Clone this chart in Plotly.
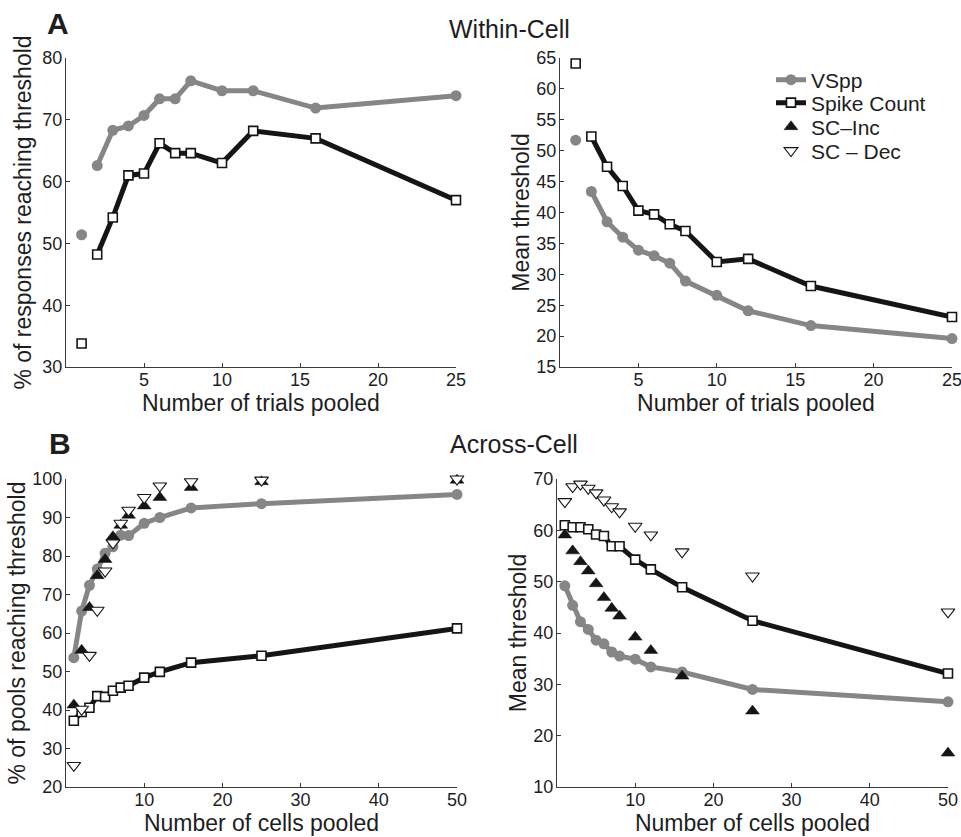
import plotly.graph_objects as go

# ---------------- data ----------------
trials = [1, 2, 3, 4, 5, 6, 7, 8, 10, 12, 16, 25]
cells = [1, 2, 3, 4, 5, 6, 7, 8, 10, 12, 16, 25, 50]

# A, left: % of responses reaching threshold
within_pct_vspp = [51.4, 62.6, 68.3, 69.0, 70.7, 73.4, 73.4, 76.3, 74.7, 74.7, 71.9, 73.9]
within_pct_sc = [33.8, 48.2, 54.2, 61.0, 61.3, 66.2, 64.6, 64.6, 63.0, 68.2, 67.0, 57.0]

# A, right: mean threshold
within_thr_vspp = [51.7, 43.4, 38.5, 36.0, 33.9, 33.0, 31.8, 28.9, 26.6, 24.1, 21.7, 19.6]
within_thr_sc = [64.1, 52.3, 47.4, 44.3, 40.3, 39.7, 38.1, 37.0, 32.0, 32.5, 28.1, 23.1]

# B, left: % of pools reaching threshold
across_pct_vspp = [53.6, 65.7, 72.4, 76.6, 80.7, 82.4, 85.4, 85.3, 88.5, 90.0, 92.5, 93.6, 96.0]
across_pct_sc = [37.2, 39.5, 40.6, 43.6, 43.4, 45.0, 45.8, 46.3, 48.4, 49.9, 52.3, 54.1, 61.2]
across_pct_inc = [41.3, 55.5, 66.6, 74.9, 79.1, 85.0, 88.0, 90.6, 93.0, 95.2, 97.8, 99.3, 99.7]
across_pct_dec = [25.6, 40.2, 54.2, 65.9, 76.1, 83.4, 88.5, 91.9, 95.2, 98.2, 99.3, 99.7, 100.0]

# B, right: mean threshold
across_thr_vspp = [49.2, 45.4, 42.2, 40.7, 38.6, 37.9, 36.3, 35.5, 34.9, 33.4, 32.4, 29.0, 26.6]
across_thr_sc = [61.0, 60.6, 60.6, 60.2, 59.2, 58.9, 56.9, 56.9, 54.3, 52.4, 48.9, 42.4, 32.1]
across_thr_inc = [59.1, 56.0, 53.9, 52.1, 49.6, 46.9, 44.8, 43.3, 39.2, 36.6, 31.6, 24.8, 16.6]
across_thr_dec = [65.6, 68.5, 69.0, 68.2, 67.3, 65.9, 64.6, 63.6, 60.8, 59.1, 55.8, 51.1, 44.1]

# ---------------- styles ----------------
GRAY = "#868686"
BLACK = "#151515"
FONT = "Liberation Sans, Arial, Helvetica, sans-serif"
TXT = "#1e1e1e"

vspp_marker = dict(symbol="circle", size=11, color=GRAY, line=dict(color=GRAY, width=0))
sc_marker = dict(symbol="square", size=9, color="white", line=dict(color=BLACK, width=1.6))
inc_marker = dict(symbol="triangle-up", size=12, color=BLACK, line=dict(color=BLACK, width=0.5))
dec_marker = dict(symbol="triangle-down", size=12, color="white", line=dict(color=BLACK, width=1.1))

fig = go.Figure()


def add_within(xa, ya, xs, vspp, sc, legend):
    # isolated first point (single trial) and connected curve from 2 trials on
    fig.add_trace(go.Scatter(x=xs[:1], y=vspp[:1], mode="markers", marker=vspp_marker,
                             xaxis=xa, yaxis=ya, showlegend=False, cliponaxis=False))
    fig.add_trace(go.Scatter(x=xs[1:], y=vspp[1:], mode="lines+markers", name="VSpp",
                             line=dict(color=GRAY, width=5), marker=vspp_marker,
                             xaxis=xa, yaxis=ya, showlegend=legend, legend="legend",
                             cliponaxis=False))
    fig.add_trace(go.Scatter(x=xs[:1], y=sc[:1], mode="markers", marker=sc_marker,
                             xaxis=xa, yaxis=ya, showlegend=False, cliponaxis=False))
    fig.add_trace(go.Scatter(x=xs[1:], y=sc[1:], mode="lines+markers", name="Spike Count",
                             line=dict(color=BLACK, width=5), marker=sc_marker,
                             xaxis=xa, yaxis=ya, showlegend=legend, legend="legend2",
                             cliponaxis=False))


def add_across(xa, ya, xs, vspp, sc, inc, dec, legend):
    fig.add_trace(go.Scatter(x=xs, y=vspp, mode="lines+markers", name="VSpp",
                             line=dict(color=GRAY, width=5), marker=vspp_marker,
                             xaxis=xa, yaxis=ya, showlegend=False, cliponaxis=False))
    fig.add_trace(go.Scatter(x=xs, y=sc, mode="lines+markers", name="Spike Count",
                             line=dict(color=BLACK, width=5), marker=sc_marker,
                             xaxis=xa, yaxis=ya, showlegend=False, cliponaxis=False))
    fig.add_trace(go.Scatter(x=xs, y=inc, mode="markers", name="SC\u2013Inc",
                             marker=inc_marker, xaxis=xa, yaxis=ya,
                             showlegend=legend, legend="legend3", cliponaxis=False))
    fig.add_trace(go.Scatter(x=xs, y=dec, mode="markers", name="SC \u2013 Dec",
                             marker=dec_marker, xaxis=xa, yaxis=ya,
                             showlegend=legend, legend="legend4", cliponaxis=False))


add_within("x", "y", trials, within_pct_vspp, within_pct_sc, False)
add_within("x2", "y2", trials, within_thr_vspp, within_thr_sc, True)
add_across("x3", "y3", cells, across_pct_vspp, across_pct_sc, across_pct_inc, across_pct_dec, False)
add_across("x4", "y4", cells, across_thr_vspp, across_thr_sc, across_thr_inc, across_thr_dec, True)

W, H = 961, 837


def dx(a, b):
    return [a / W, b / W]


def dy(top, bottom):
    return [(H - bottom) / H, (H - top) / H]


axis_common = dict(showline=True, linecolor="#3a3a3a", linewidth=1.2, mirror=False,
                   showgrid=False, zeroline=False, ticks="inside", ticklen=4,
                   tickcolor="#3a3a3a", tickwidth=1, ticklabeloverflow="allow",
                   tickfont=dict(family=FONT, size=18, color=TXT), automargin=False)
x_common = dict(axis_common, ticklabelstandoff=-4)
y_common = dict(axis_common, ticklabelstandoff=-1)

title_font = dict(family=FONT, size=23, color=TXT)


def leg(ypix):
    return dict(x=771 / W, y=(H - ypix) / H, xanchor="left", yanchor="middle",
                font=dict(family=FONT, size=21, color=TXT), bgcolor="rgba(0,0,0,0)",
                itemwidth=30)


fig.update_layout(
    width=W, height=H,
    margin=dict(l=0, r=0, t=0, b=0),
    paper_bgcolor="white", plot_bgcolor="white",
    font=dict(family=FONT, color=TXT),
    xaxis=dict(domain=dx(66, 456), range=[0, 25], tickvals=[5, 10, 15, 20, 25],
               anchor="y", title=dict(text="Number of trials pooled", font=title_font, standoff=0),
               **x_common),
    yaxis=dict(domain=dy(58, 367), range=[30, 80], tickvals=[30, 40, 50, 60, 70, 80],
               anchor="x", title=dict(text="% of responses reaching threshold", font=title_font, standoff=4),
               **y_common),
    xaxis2=dict(domain=dx(560, 952), range=[0, 25], tickvals=[5, 10, 15, 20, 25],
                anchor="y2", title=dict(text="Number of trials pooled", font=title_font, standoff=0),
                **x_common),
    yaxis2=dict(domain=dy(58, 367), range=[15, 65], tickvals=[15, 20, 25, 30, 35, 40, 45, 50, 55, 60, 65],
                anchor="x2", title=dict(text="Mean threshold", font=title_font, standoff=0),
                **y_common),
    xaxis3=dict(domain=dx(66, 457), range=[0, 50], tickvals=[10, 20, 30, 40, 50],
                anchor="y3", title=dict(text="Number of cells pooled", font=title_font, standoff=0),
                **x_common),
    yaxis3=dict(domain=dy(479, 787), range=[20, 100], tickvals=[20, 30, 40, 50, 60, 70, 80, 90, 100],
                anchor="x3", title=dict(text="% of pools reaching threshold", font=title_font, standoff=0),
                **y_common),
    xaxis4=dict(domain=dx(557, 948), range=[0, 50], tickvals=[10, 20, 30, 40, 50],
                anchor="y4", title=dict(text="Number of cells pooled", font=title_font, standoff=0),
                **x_common),
    yaxis4=dict(domain=dy(479, 787), range=[10, 70], tickvals=[10, 20, 30, 40, 50, 60, 70],
                anchor="x4", title=dict(text="Mean threshold", font=title_font, standoff=0),
                **y_common),
    legend=leg(80),
    legend2=leg(103),
    legend3=leg(127),
    legend4=leg(151),
    annotations=[
        dict(text="<b>A</b>", x=58 / W, y=(H - 23) / H, xref="paper", yref="paper",
             xanchor="center", yanchor="middle",
             showarrow=False, font=dict(family=FONT, size=30, color=TXT)),
        dict(text="Within-Cell", x=510 / W, y=(H - 29) / H, xref="paper", yref="paper",
             xanchor="center", yanchor="middle",
             showarrow=False, font=dict(family=FONT, size=25, color=TXT)),
        dict(text="<b>B</b>", x=60 / W, y=(H - 443) / H, xref="paper", yref="paper",
             xanchor="center", yanchor="middle",
             showarrow=False, font=dict(family=FONT, size=30, color=TXT)),
        dict(text="Across-Cell", x=514 / W, y=(H - 444) / H, xref="paper", yref="paper",
             xanchor="center", yanchor="middle",
             showarrow=False, font=dict(family=FONT, size=25, color=TXT)),
    ],
)

fig.write_html("out.html")
